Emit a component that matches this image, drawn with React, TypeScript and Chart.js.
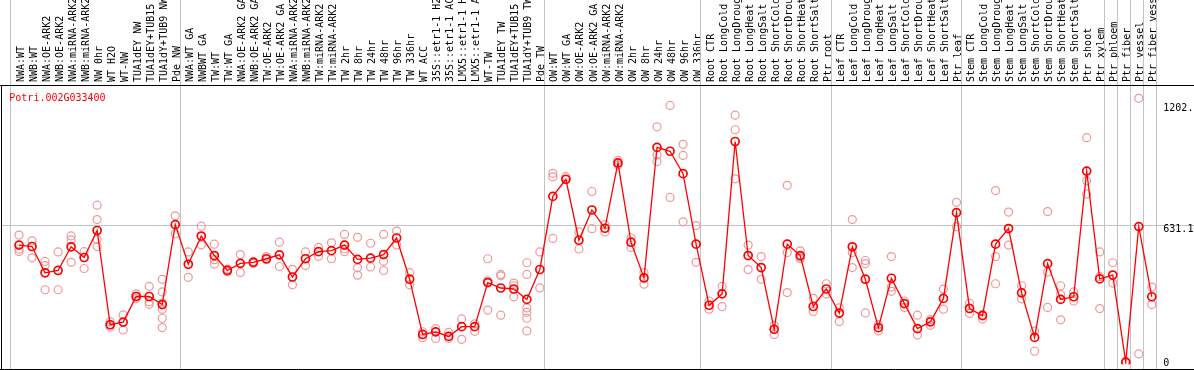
import React, { useEffect, useRef } from "react";
import { Chart, registerables } from "chart.js";

Chart.register(...registerables);

const GENE = "Potri.002G033400";

const CATEGORIES = [
  "NWA:WT", "NWB:WT", "NWA:OE-ARK2", "NWB:OE-ARK2", "NWA:miRNA-ARK2", "NWB:miRNA-ARK2",
  "NW 0hr", "WT H2O", "WT-NW", "TUA1dEY NW", "TUA1dEY+TUB15 NW", "TUA1dY+TUB9 NW", "Pde NW",
  "NWA:WT GA", "NWBWT GA", "TW:WT", "TW:WT GA", "NWA:OE-ARK2 GA", "NWB:OE-ARK2 GA",
  "TW:OE-ARK2", "TW:OE-ARK2 GA", "NWA:miRNA-ARK2 GA", "NWB:miRNA-ARK2 GA", "TW:miRNA-ARK2",
  "TW:miRNA-ARK2 GA", "TW 2hr", "TW 8hr", "TW 24hr", "TW 48hr", "TW 96hr", "TW 336hr",
  "WT ACC", "35S::etr1-1 H2O", "35S::etr1-1 ACC", "LMX5::etr1-1 H2O", "LMX5::etr1-1 ACC",
  "WT-TW", "TUA1dEY TW", "TUA1dEY+TUB15 TW", "TUA1dY+TUB9 TW", "Pde TW",
  "OW:WT", "OW:WT GA", "OW:OE-ARK2", "OW:OE-ARK2 GA", "OW:miRNA-ARK2", "OW:miRNA-ARK2 GA",
  "OW 2hr", "OW 8hr", "OW 24hr", "OW 48hr", "OW 96hr", "OW 336hr",
  "Root CTR", "Root LongCold", "Root LongDrought", "Root LongHeat", "Root LongSalt",
  "Root ShortCold", "Root ShortDrought", "Root ShortHeat", "Root ShortSalt", "Ptr root",
  "Leaf CTR", "Leaf LongCold", "Leaf LongDrought", "Leaf LongHeat", "Leaf LongSalt",
  "Leaf ShortCold", "Leaf ShortDrought", "Leaf ShortHeat", "Leaf ShortSalt", "Ptr leaf",
  "Stem CTR", "Stem LongCold", "Stem LongDrought", "Stem LongHeat", "Stem LongSalt",
  "Stem ShortCold", "Stem ShortDrought", "Stem ShortHeat", "Stem ShortSalt", "Ptr shoot",
  "Ptr xylem", "Ptr phloem", "Ptr fiber", "Ptr vessel", "Ptr fiber vessel",
];

const MEANS = [
  538.6, 532.4, 413.5, 424.1, 531.1, 482.7, 604.7, 178.8, 190.7, 306.5, 306.5, 270.0, 631.1,
  451.9, 579.6, 491.5, 424.1, 456.3, 460.7, 477.0, 494.6, 394.6, 477.0, 509.1, 513.5, 538.6,
  473.9, 479.6, 495.9, 570.8, 384.5, 134.8, 146.7, 126.0, 170.0, 170.0, 369.5, 344.8, 340.4,
  293.3, 428.5,
  758.8, 836.3, 560.6, 697.2, 614.8, 909.9, 551.8, 390.2, 980.3, 962.7, 861.4, 543.0,
  266.9, 318.4, 1006.8, 491.5, 437.3, 158.1, 543.0, 491.5, 261.2, 340.4,
  231.7, 531.1, 384.5, 165.6, 388.9, 274.4, 161.2, 192.0, 297.7, 685.3,
  252.3, 219.8, 543.0, 613.5, 322.8, 121.6, 454.9, 293.3, 305.2, 873.3, 385.8,
  403.4, 10.1, 622.3, 305.2,
];

const REPLICATES = [
  [584, 521, 510], [558, 481], [465, 446, 337], [508, 337], [580, 562, 461], [509, 433],
  [719, 654, 565, 532], [192, 179, 169], [223, 155], [318, 307, 297], [352, 283, 271],
  [384, 327, 277, 249, 208, 166], [671, 590],
  [508, 393], [624, 540], [543, 473, 453], [430, 418], [496, 415], [465, 456], [487, 473],
  [552, 442], [429, 359], [508, 446], [528, 488], [549, 477], [587, 521, 509], [574, 436, 403],
  [547, 440], [587, 466, 424], [602, 539], [414, 359], [147, 120], [161, 117], [144, 126, 117],
  [205, 113], [183, 149], [477, 377, 245], [406, 400, 222], [367, 355, 305],
  [459, 406, 255, 235, 208, 151], [508, 345],
  [863, 847, 569], [848, 834], [598, 521], [781, 613], [631, 598], [922, 901], [572, 528],
  [414, 362], [1073, 946, 916], [1170, 754], [994, 944, 644], [627, 461],
  [286, 249], [352, 261], [1126, 1060, 838], [539, 428], [487, 384], [176, 135],
  [809, 505, 324], [513, 484, 478], [298, 239], [364, 318],
  [255, 193], [654, 505, 437], [469, 455, 232], [179, 151], [487, 349, 330], [286, 257],
  [222, 132], [202, 176], [340, 249], [732, 622],
  [276, 230], [226, 205], [785, 487, 364], [688, 539], [355, 296], [151, 59],
  [690, 417, 257], [355, 315, 201], [327, 286], [1024, 829, 770], [508, 396, 252],
  [459, 367], [8, 12], [1202.1, 47], [349, 270],
];

const Y_TICKS = [0, 631.1, 1202.1];
const Y_TICK_LABELS = ["0", "631.1", "1202.1"];
const Y_MAX = 1262.2;
const GROUP_BOUNDARIES = [0, 13, 41, 53, 63, 73, 84, 85, 86, 87, 88];

const FONT = "DejaVu Sans Mono";

const decorPlugin = {
  id: "decor",
  beforeDatasetsDraw(chart: any) {
    const { ctx, chartArea, scales } = chart;
    const xs = scales.x;
    const ys = scales.y;
    const W = chart.width;
    const frameBottom = 369.5;
    ctx.save();
    ctx.lineWidth = 1;
    ctx.strokeStyle = "#c3c3c3";
    for (const k of GROUP_BOUNDARIES) {
      const px = Math.round(xs.getPixelForValue(k) - 8.7) + 0.5;
      ctx.beginPath();
      ctx.moveTo(px, 0);
      ctx.lineTo(px, frameBottom);
      ctx.stroke();
    }
    const gy = Math.round(ys.getPixelForValue(Y_TICKS[1])) + 0.5;
    ctx.beginPath();
    ctx.moveTo(1, gy);
    ctx.lineTo(W, gy);
    ctx.stroke();
    ctx.strokeStyle = "#000";
    ctx.beginPath();
    ctx.moveTo(0, chartArea.top + 0.5);
    ctx.lineTo(W, chartArea.top + 0.5);
    ctx.moveTo(1.5, chartArea.top);
    ctx.lineTo(1.5, frameBottom);
    ctx.moveTo(0, frameBottom);
    ctx.lineTo(W, frameBottom);
    ctx.stroke();
    ctx.restore();
  },
  afterDatasetsDraw(chart: any) {
    const { ctx, chartArea, scales } = chart;
    const ys = scales.y;
    ctx.save();
    ctx.font = `10px "${FONT}"`;
    ctx.textBaseline = "alphabetic";
    ctx.textAlign = "left";
    ctx.fillStyle = "#ff0000";
    ctx.fillText(GENE, chartArea.left - 3.2, chartArea.top + 15.5);
    ctx.fillStyle = "#000";
    Y_TICKS.forEach((v, i) => {
      const py = ys.getPixelForValue(v);
      const base = Math.min(Math.max(py + 7, chartArea.top + 25.5), 365.5);
      ctx.fillText(Y_TICK_LABELS[i], chartArea.right + 5, base);
    });
    ctx.restore();
  },
};

export default function App() {
  const ref = useRef<HTMLCanvasElement | null>(null);
  useEffect(() => {
    if (!ref.current) return;
    const repPoints = REPLICATES.flatMap((vals, i) =>
      vals.map((v) => ({ x: CATEGORIES[i], y: v }))
    );
    const chart = new Chart(ref.current, {
      type: "line",
      data: {
        labels: CATEGORIES,
        datasets: [
          {
            label: "mean",
            data: MEANS,
            borderColor: "#ff0000",
            borderWidth: 1.3,
            pointRadius: 4,
            pointHoverRadius: 4,
            pointBorderWidth: 1.7,
            pointBorderColor: "#ff0000",
            pointBackgroundColor: "rgba(0,0,0,0)",
            tension: 0,
          },
          {
            label: "replicates",
            data: repPoints as any,
            showLine: false,
            borderColor: "rgba(238,146,146,0.95)",
            pointRadius: 4,
            pointHoverRadius: 4,
            pointBorderWidth: 1.2,
            pointBorderColor: "rgba(238,146,146,0.95)",
            pointBackgroundColor: "rgba(0,0,0,0)",
          },
        ],
      },
      options: {
        responsive: false,
        animation: false,
        events: [],
        layout: { padding: { left: 12.5, right: 35.7, top: 0, bottom: -1.6 } },
        plugins: { legend: { display: false }, tooltip: { enabled: false }, title: { display: false } },
        scales: {
          x: {
            type: "category",
            position: "top",
            offset: true,
            grid: { display: false, drawTicks: false },
            border: { display: false },
            ticks: {
              autoSkip: false,
              minRotation: 90,
              maxRotation: 90,
              padding: 3,
              labelOffset: 14,
              color: "#000",
              font: { family: FONT, size: 10 },
            },
            afterFit: (scale: any) => {
              scale.height = 85;
            },
          },
          y: {
            type: "linear",
            display: false,
            min: 0,
            max: Y_MAX,
          },
        },
      },
      plugins: [decorPlugin],
    });
    return () => chart.destroy();
  }, []);
  return (
    <div style={{ position: "fixed", left: 0, top: 0, width: 1194, height: 370, background: "#fff" }}>
      <canvas ref={ref} width={1194} height={370} style={{ display: "block" }} />
    </div>
  );
}
